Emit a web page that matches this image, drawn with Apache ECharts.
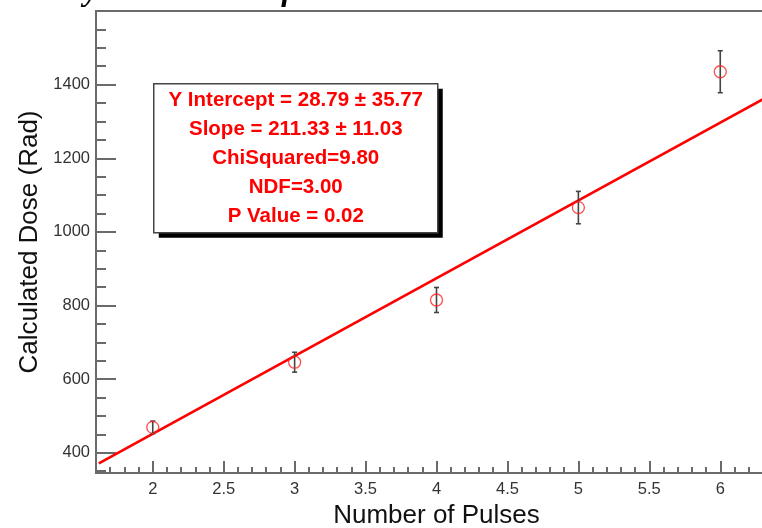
<!DOCTYPE html>
<html>
<head>
<meta charset="utf-8">
<script src="https://cdn.jsdelivr.net/npm/echarts@6/dist/echarts.min.js"></script>
<style>
  html, body { margin: 0; padding: 0; background: #ffffff; }
  #chart { width: 762px; height: 528px; }
</style>
</head>
<body>
<div id="chart"></div>
<script>
// Measured dose per number of pulses, with uncertainties
var pulses = [2, 3, 4, 5, 6];
var dose = [469, 646, 815, 1066, 1435];
var doseErr = [17, 27, 34, 44, 57];

// Linear fit results
var fitIntercept = 28.79;
var fitInterceptErr = 35.77;
var fitSlope = 211.33;
var fitSlopeErr = 11.03;
var chiSquared = 9.80;
var ndf = 3.00;
var pValue = 0.02;

// Axis ticks
var xMajorTicks = [2, 2.5, 3, 3.5, 4, 4.5, 5, 5.5, 6];
var yMajorTicks = [400, 600, 800, 1000, 1200, 1400];

var xMin = 1.6, xMax = 6.4;
var yMin = 345, yMax = 1600;
var fitFrom = 1.62;

function minorTicks(from, to, step, majors) {
  var out = [];
  var n = Math.round((to - from) / step);
  for (var i = 0; i <= n; i++) {
    var v = Math.round((from + i * step) * 1000) / 1000;
    if (majors.indexOf(v) < 0) out.push(v);
  }
  return out;
}
var xMinorTicks = minorTicks(1.7, 6.3, 0.1, xMajorTicks);
var yMinorTicks = minorTicks(350, 1550, 50, yMajorTicks);

var fitLine = [fitFrom, xMax].map(function (x) {
  return [x, fitIntercept + fitSlope * x];
});

var FONT = '"Liberation Sans", Helvetica, Arial, sans-serif';
var frameColor = '#6a6a6a';

var chart = echarts.init(document.getElementById('chart'), null, { renderer: 'canvas' });

function plain(v) { return String(v); }

function baseX(extra) {
  return Object.assign({
    type: 'value', gridIndex: 0, position: 'bottom', min: xMin, max: xMax,
    axisLine: { show: false }, splitLine: { show: false }
  }, extra);
}
function baseY(extra) {
  return Object.assign({
    type: 'value', gridIndex: 0, position: 'left', min: yMin, max: yMax,
    axisLine: { show: false }, splitLine: { show: false }
  }, extra);
}

var statFont = 'bold 20.5px ' + FONT;

var option = {
  animation: false,
  backgroundColor: '#ffffff',
  grid: {
    left: 96, top: 11, width: 681, height: 462,
    outerBoundsMode: 'none', containLabel: false,
    show: true, borderColor: frameColor, borderWidth: 2, backgroundColor: 'transparent'
  },
  xAxis: [
    baseX({
      name: 'Number of Pulses', nameLocation: 'middle', nameGap: 28,
      nameTextStyle: { fontFamily: FONT, fontSize: 26, color: '#111', verticalAlign: 'top' },
      axisTick: { show: true, inside: true, length: 12, customValues: xMajorTicks,
        lineStyle: { color: frameColor, width: 2 } },
      axisLabel: { show: true, customValues: xMajorTicks, margin: 8, formatter: plain,
        fontFamily: FONT, fontSize: 16.5, color: '#333' }
    }),
    baseX({
      axisTick: { show: true, inside: true, length: 6, customValues: xMinorTicks,
        lineStyle: { color: frameColor, width: 2 } },
      axisLabel: { show: false }
    })
  ],
  yAxis: [
    baseY({
      name: 'Calculated Dose (Rad)', nameLocation: 'middle', nameGap: 61, nameRotate: 90,
      nameTextStyle: { fontFamily: FONT, fontSize: 26, color: '#111', verticalAlign: 'middle' },
      axisTick: { show: true, inside: true, length: 20, customValues: yMajorTicks,
        lineStyle: { color: frameColor, width: 2 } },
      axisLabel: { show: true, customValues: yMajorTicks, margin: 6, formatter: plain,
        fontFamily: FONT, fontSize: 16.5, color: '#333' }
    }),
    baseY({
      axisTick: { show: true, inside: true, length: 10, customValues: yMinorTicks,
        lineStyle: { color: frameColor, width: 2 } },
      axisLabel: { show: false }
    })
  ],
  series: [
    {
      name: 'Fit', type: 'line', xAxisIndex: 0, yAxisIndex: 0,
      data: fitLine, symbol: 'none', z: 2,
      lineStyle: { color: '#ff0000', width: 2.6 }
    },
    {
      name: 'Errors', type: 'custom', xAxisIndex: 0, yAxisIndex: 0, z: 3,
      data: pulses.map(function (x, i) { return [x, dose[i] - doseErr[i], dose[i] + doseErr[i]]; }),
      renderItem: function (params, api) {
        var lo = api.coord([api.value(0), api.value(1)]);
        var hi = api.coord([api.value(0), api.value(2)]);
        var cap = 2.5;
        var st = { stroke: '#444', lineWidth: 1.6 };
        return {
          type: 'group',
          children: [
            { type: 'line', shape: { x1: lo[0], y1: lo[1], x2: hi[0], y2: hi[1] }, style: st },
            { type: 'line', shape: { x1: lo[0] - cap, y1: lo[1], x2: lo[0] + cap, y2: lo[1] }, style: st },
            { type: 'line', shape: { x1: hi[0] - cap, y1: hi[1], x2: hi[0] + cap, y2: hi[1] }, style: st }
          ]
        };
      }
    },
    {
      name: 'Dose', type: 'scatter', xAxisIndex: 0, yAxisIndex: 0, z: 4,
      data: pulses.map(function (x, i) { return [x, dose[i]]; }),
      symbol: 'circle', symbolSize: 12,
      itemStyle: { color: 'rgba(0,0,0,0)', borderColor: '#ff2020', borderWidth: 1.3 }
    }
  ],
  graphic: [
    {
      type: 'text', left: -37, top: -24, silent: true,
      style: {
        text: 'Dosimetry Calibration of TLDs',
        font: 'italic bold 32px "Liberation Serif", "Times New Roman", serif',
        fill: '#000'
      }
    },
    {
      type: 'group', left: 153, top: 83, silent: true,
      children: [
        { type: 'rect', shape: { x: 5, y: 5, width: 284, height: 149 }, style: { fill: '#000' } },
        { type: 'rect', shape: { x: 0, y: 0, width: 284, height: 149 },
          style: { fill: '#fff', stroke: '#444', lineWidth: 1.5 } },
        { type: 'text', x: 142, y: 17, style: {
          text: 'Y Intercept = ' + fitIntercept.toFixed(2) + ' \u00b1 ' + fitInterceptErr.toFixed(2),
          font: statFont, fill: '#ff0000', align: 'center', verticalAlign: 'middle' } },
        { type: 'text', x: 142, y: 46, style: {
          text: 'Slope = ' + fitSlope.toFixed(2) + ' \u00b1 ' + fitSlopeErr.toFixed(2),
          font: statFont, fill: '#ff0000', align: 'center', verticalAlign: 'middle' } },
        { type: 'text', x: 142, y: 75, style: {
          text: 'ChiSquared=' + chiSquared.toFixed(2),
          font: statFont, fill: '#ff0000', align: 'center', verticalAlign: 'middle' } },
        { type: 'text', x: 142, y: 104, style: {
          text: 'NDF=' + ndf.toFixed(2),
          font: statFont, fill: '#ff0000', align: 'center', verticalAlign: 'middle' } },
        { type: 'text', x: 142, y: 133, style: {
          text: 'P Value = ' + pValue.toFixed(2),
          font: statFont, fill: '#ff0000', align: 'center', verticalAlign: 'middle' } }
      ]
    }
  ]
};

chart.setOption(option);
</script>
</body>
</html>
